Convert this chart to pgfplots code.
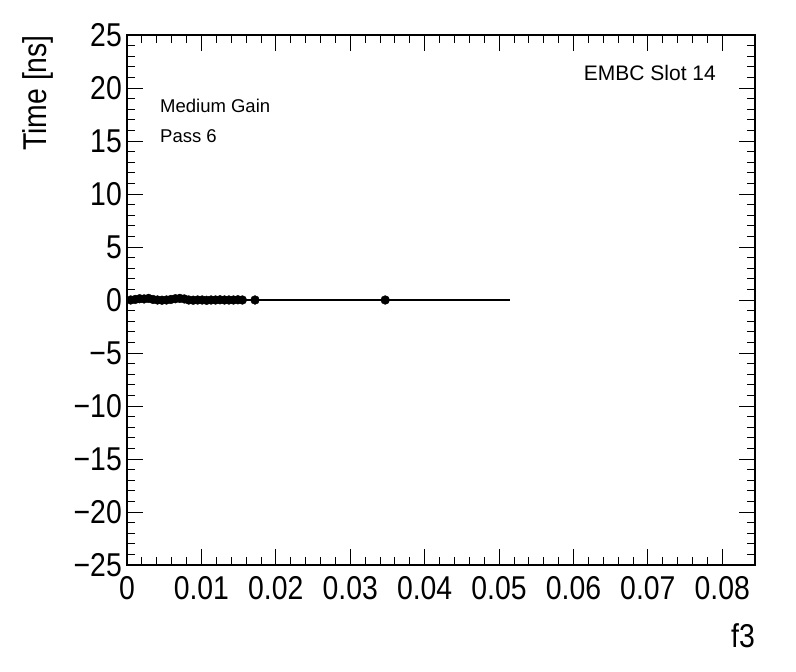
\documentclass[border=0pt]{standalone}
\usepackage{fontspec}
\setmainfont{Liberation Sans}
\newfontfamily\bigfont[FakeStretch=0.86]{Liberation Sans}
\usepackage{pgfplots}
\pgfplotsset{compat=1.18}
\begin{document}
\begin{tikzpicture}
\useasboundingbox (0,0) rectangle (796pt,672pt);
\begin{axis}[
  at={(127pt,107pt)}, anchor=south west,
  scale only axis, width=628pt, height=530pt,
  xmin=0, xmax=0.0844, ymin=-25, ymax=25,
  xtick={0,0.01,0.02,0.03,0.04,0.05,0.06,0.07,0.08},
  xticklabels={0,0.01,0.02,0.03,0.04,0.05,0.06,0.07,0.08},
  ytick={-25,-20,-15,-10,-5,0,5,10,15,20,25},
  yticklabels={−25,−20,−15,−10,−5,0,5,10,15,20,25},
  minor x tick num=4, minor y tick num=4,
  tick align=inside, xtick pos=both, ytick pos=both,
  xticklabel pos=lower, yticklabel pos=left,
  major tick length=16pt, minor tick length=8pt,
  every tick/.style={black, line width=0.8pt},
  axis line style={line width=1.2pt},
  tick label style={font=\bigfont\fontsize{33}{35}\selectfont},
  xticklabel style={inner sep=0pt, anchor=north, yshift=-11pt},
  yticklabel style={inner sep=0pt, anchor=east, xshift=-5pt},
  scaled x ticks=false,
  xlabel={f3},
  xlabel style={font=\bigfont\fontsize{33}{35}\selectfont, at={(axis description cs:1,-0.1566)}, anchor=base east, inner sep=0pt},
  ylabel={Time [ns]},
  ylabel style={font=\bigfont\fontsize{33}{35}\selectfont, at={(axis description cs:-0.1417,1)}, anchor=east, rotate=0, inner sep=0pt},
  clip=false,
]
\addplot[black, line width=1.6pt, no marks] coordinates {(0,0) (0.0515,0)};
\addplot[only marks, mark=*, mark size=4.4pt, black] coordinates {
(0.0005,0.0) (0.0011,0.05) (0.0017,0.12) (0.0023,0.1) (0.0029,0.15) (0.0035,0.05)
(0.0041,0.0) (0.0047,-0.02) (0.0053,0.0) (0.0059,0.05) (0.0065,0.12) (0.0071,0.15)
(0.0077,0.1) (0.0083,0.0) (0.0089,-0.02) (0.0095,0.0) (0.0101,0.0) (0.0107,-0.03)
(0.0113,0.0) (0.0119,0.0) (0.0125,0.02) (0.0131,0.0) (0.0137,0.0) (0.0143,0.0)
(0.0149,0.02) (0.0155,0.0) (0.0172,0.0) (0.0347,0.0)
};
\node[anchor=base east, font=\fontsize{21}{24}\selectfont, inner sep=0pt] at (axis description cs:0.938,0.915) {EMBC Slot 14};
\node[anchor=base west, font=\fontsize{18.5}{22}\selectfont, inner sep=0pt] at (axis description cs:0.0525,0.853) {Medium Gain};
\node[anchor=base west, font=\fontsize{18.5}{22}\selectfont, inner sep=0pt] at (axis description cs:0.0525,0.798) {Pass 6};
\end{axis}
\end{tikzpicture}
\end{document}
